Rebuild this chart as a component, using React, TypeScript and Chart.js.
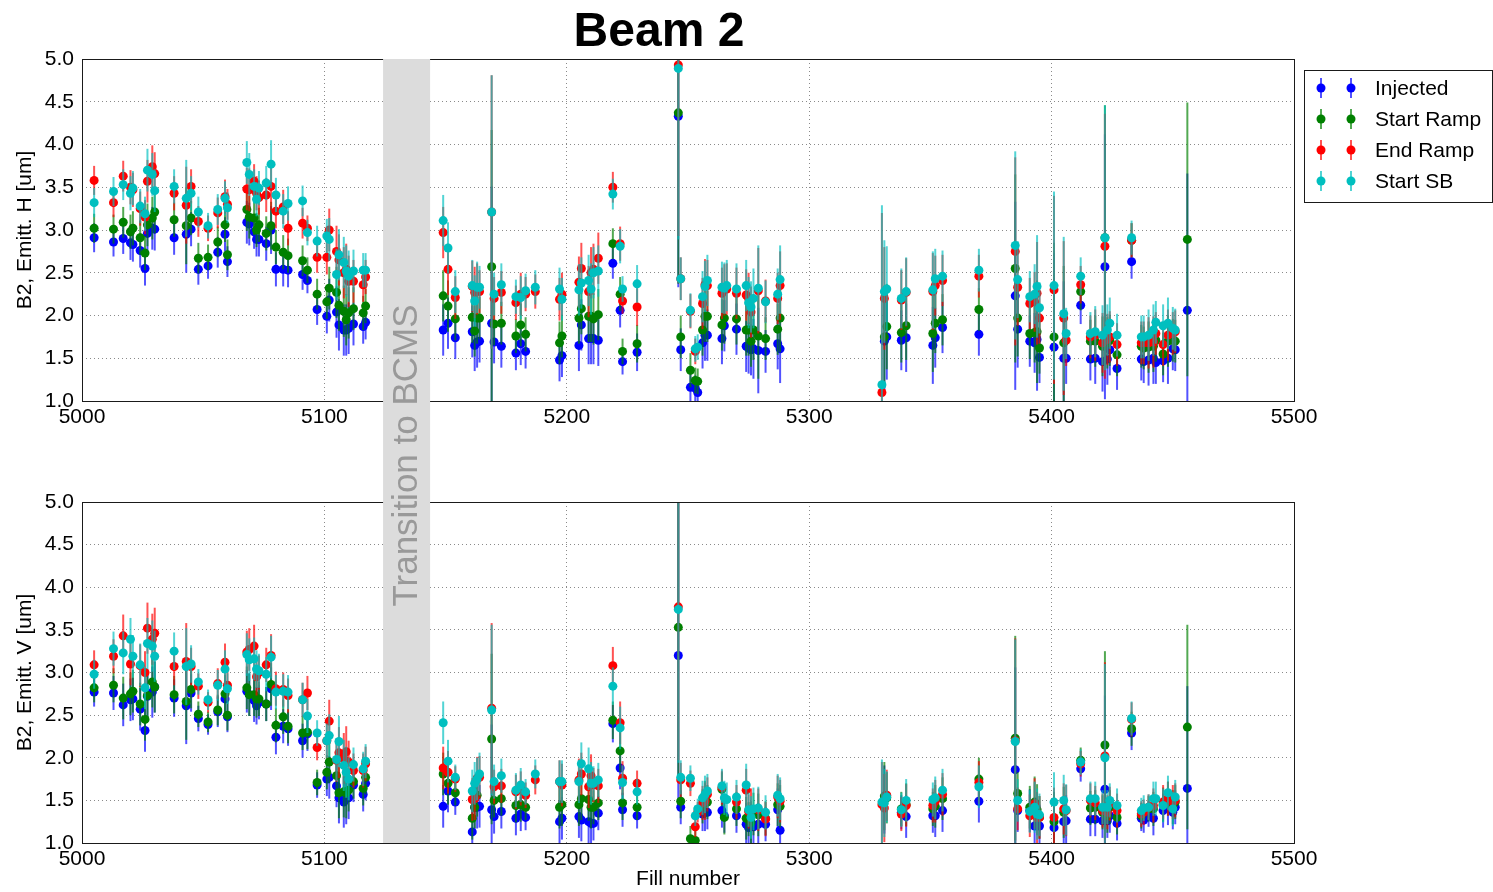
import React, { useEffect, useRef } from 'react';
import { Chart, registerables } from 'chart.js';

Chart.register(...registerables);

const FONT = '"Liberation Sans", Arial, Helvetica, sans-serif';

// ---------------- data ----------------
const FILLS = [
  5005, 5013, 5017, 5020, 5021, 5024, 5026, 5027, 5029, 5030,
  5038, 5043, 5045, 5048, 5052, 5056, 5059, 5060, 5068, 5069,
  5071, 5072, 5073, 5076, 5078, 5080, 5083, 5085, 5091, 5093,
  5097, 5101, 5102, 5105, 5106, 5108, 5109, 5110, 5112, 5116,
  5117,
  5149, 5151, 5154, 5161, 5162, 5163, 5164, 5169, 5170, 5173,
  5179, 5181, 5183, 5187, 5197, 5198, 5205, 5206, 5209, 5210,
  5211, 5213, 5219, 5222, 5223, 5229, 5246, 5247, 5251, 5253,
  5254, 5256, 5257, 5258, 5264, 5265, 5266, 5270, 5274, 5275,
  5276, 5277, 5279, 5282, 5287, 5288,
  5330, 5331, 5332, 5338, 5340, 5351, 5352, 5355, 5370, 5385,
  5386, 5391, 5393, 5394, 5395, 5401, 5405, 5406, 5412, 5416,
  5418, 5421, 5422, 5423, 5424, 5427, 5433, 5437, 5438, 5440,
  5442, 5443, 5446, 5448, 5450, 5451, 5456,
];

// Horizontal emittance [um]
const H_INJ = [
  2.91, 2.86, 2.90, 2.85, 2.83, 2.76, 2.55, 2.96, 3.02, 3.01,
  2.91, 2.95, 3.01, 2.54, 2.58, 2.74, 2.95, 2.63, 3.09, 3.07,
  2.98, 2.89, 2.89, 2.84, 3.00, 2.54, 2.54, 2.53, 2.48, 2.41,
  2.07, 1.99, 2.18, 2.04, 1.89, 1.83, 1.83, 1.85, 1.90, 1.87,
  1.92,
  1.83, 1.91, 1.74, 1.81, 1.65, 1.69, 1.70, 1.91, 1.69, 1.64,
  1.56, 1.67, 1.58, null, 1.48, 1.53, 1.65, 1.89, 1.73, 1.73,
  1.73, 1.71, 2.61, 2.06, 1.46, 1.57, 4.33, 1.60, 1.16, 1.15,
  1.10, 1.68, 1.77, 1.77, 1.73, 1.88, null, 1.84, 1.64, 1.62,
  1.60, 1.61, 1.59, 1.58, 1.67, 1.61,
  null, 1.70, 1.75, 1.71, 1.74, 1.65, 1.74, 1.86, 1.78, 2.23,
  1.84, 1.70, 1.68, 1.72, 1.51, 1.63, 1.50, 1.50, 2.12, 1.49,
  1.50, 1.46, 2.57, 1.49, 1.60, 1.38, 2.63, 1.49, 1.46, 1.48,
  1.50, 1.45, 1.47, 1.50, 1.61, 1.60, 2.06,
];
const H_SR = [
  3.02, 3.01, 3.09, 2.98, 3.02, 2.91, 2.73, 3.06, 3.14, 3.21,
  3.12, 3.05, 3.14, 2.67, 2.68, 2.86, 3.06, 2.71, 3.24, 3.15,
  3.14, 3.00, 3.06, 2.96, 3.05, 2.80, 2.74, 2.70, 2.64, 2.53,
  2.25, 2.16, 2.32, 2.27, 2.12, 2.05, 1.95, 2.03, 2.08, 2.03,
  2.11,
  2.23, 2.11, 1.96, 1.98, 1.82, 1.97, 1.97, 2.57, 1.90, 1.91,
  1.76, 1.89, 1.78, null, 1.68, 1.76, 1.97, 2.08, 1.99, 1.99,
  1.96, 2.01, 2.84, 2.25, 1.58, 1.67, 4.37, 1.75, 1.36, 1.24,
  1.23, 1.83, 1.99, 1.99, 1.89, 1.97, null, 1.96, 1.83, 1.83,
  1.70, 1.83, 1.76, 1.73, 1.84, 1.97,
  null, 1.75, 1.87, 1.80, 1.88, 1.79, 1.91, 1.95, 2.07, 2.55,
  1.97, 1.79, 1.80, 1.81, 1.62, 1.75, 1.68, null, 2.28, 1.70,
  1.70, 1.64, 2.91, 1.68, 1.71, 1.54, 2.88, 1.64, 1.62, 1.63,
  1.64, 1.71, 1.55, 1.70, 1.71, 1.70, 2.89,
];
const H_ER = [
  3.58, 3.32, 3.63, 3.50, 3.47, 3.25, 3.15, 3.57, 3.74, 3.66,
  3.43, 3.29, 3.51, 3.10, 3.02, 3.20, 3.39, 3.30, 3.48, 3.47,
  3.57, 3.43, 3.38, 3.41, 3.51, 3.22, 3.27, 3.02, 3.08, 3.02,
  2.68, 2.68, 3.00, 2.75, 2.65, 2.50, 2.54, 2.40, 2.40, 2.36,
  2.45,
  2.97, 2.54, 2.21, 2.34, 2.27, 2.31, 2.28, 3.21, 2.20, 2.27,
  2.15, 2.25, 2.25, 2.28, 2.19, 2.25, 2.39, 2.55, 2.28, 2.50,
  2.54, 2.67, 3.50, 2.84, 2.17, 2.10, 4.93, 2.43, 2.05, 1.58,
  null, 2.14, 2.36, 2.35, 2.26, 2.30, 2.31, 2.26, 2.24, 2.20,
  2.04, null, 2.29, 2.17, 2.20, 2.35,
  1.10, 2.20, null, 2.18, 2.27, 2.28, 2.35, 2.41, 2.46, 2.75,
  2.33, 2.14, 2.16, 2.26, 1.97, 2.30, 1.97, 1.71, 2.36, 1.75,
  1.77, 1.68, 2.81, 1.72, 1.75, 1.66, 2.88, 1.68, 1.68, 1.68,
  1.69, 1.79, 1.66, 1.77, 1.79, 1.81, null,
];
const H_SB = [
  3.32, 3.45, 3.53, 3.43, 3.49, 3.28, 3.19, 3.70, 3.65, 3.46,
  3.51, 3.37, 3.43, 3.21, 3.05, 3.24, 3.37, 3.26, 3.79, 3.65,
  3.51, 3.36, 3.49, 3.55, 3.77, 3.41, 3.22, 3.31, 3.34, 2.97,
  2.87, 2.93, 2.89, 2.48, 2.71, 2.62, 2.52, 2.46, 2.52, 2.53,
  2.53,
  3.11, 2.79, 2.28, 2.35, 2.17, 2.33, 2.33, 3.21, 2.25, 2.36,
  2.22, 2.21, 2.29, 2.33, 2.31, 2.19, 2.30, 2.38, 2.41, 2.31,
  2.50, 2.52, 3.42, 2.81, 2.31, 2.37, 4.89, 2.43, 2.06, 1.61,
  1.63, 2.22, 2.34, 2.41, 2.33, 2.32, 2.35, 2.31, 2.35, 2.15,
  2.10, 2.20, 2.32, 2.16, 2.25, 2.42,
  1.19, 2.28, 2.31, 2.20, 2.28, 2.30, 2.43, 2.46, 2.53, 2.82,
  2.42, 2.22, 2.25, 2.34, 2.09, 2.35, 2.02, 1.79, 2.46, 1.79,
  1.81, 1.77, 2.91, 1.83, 1.91, 1.77, 2.91, 1.75, 1.75, 1.77,
  1.83, 1.92, 1.88, 1.91, 1.85, 1.83, null,
];
const H_ERR = [
  0.17, 0.17, 0.18, 0.20, 0.20, 0.20, 0.20, 0.25, 0.25, 0.25,
  0.20, 0.45, 0.20, 0.18, 0.15, 0.18, 0.20, 0.18, 0.25, 0.25,
  0.20, 0.20, 0.20, 0.20, 0.28, 0.20, 0.20, 0.20, 0.18, 0.15,
  0.18, 0.20, 0.25, 0.30, 0.30, 0.30, 0.30, 0.30, 0.25, 0.20,
  0.20,
  0.30, 0.30, 0.25, 0.30, 0.30, 0.30, 0.25, 1.60, 0.25, 0.25,
  0.20, 0.25, 0.20, 0.20, 0.25, 0.25, 0.30, 0.30, 0.30, 0.30,
  0.30, 0.30, 0.18, 0.20, 0.15, 0.22, 2.00, 0.25, 0.20, 0.15,
  0.15, 0.30, 0.30, 0.30, 0.30, 0.30, 0.30, 0.30, 0.30, 0.30,
  0.30, 0.35, 0.50, 0.25, 0.30, 0.40,
  2.10, 0.60, 0.50, 0.35, 0.40, 0.45, 0.35, 0.30, 0.25, 1.10,
  0.45, 0.30, 0.35, 0.60, 0.30, 1.10, 0.90, 0.30, 0.22, 0.25,
  0.30, 0.35, 1.55, 0.30, 0.30, 0.25, 0.20, 0.25, 0.25, 0.30,
  0.30, 0.25, 0.25, 0.30, 0.25, 0.25, 1.60,
];

// Vertical emittance [um]
const V_INJ = [
  2.77, 2.76, 2.62, 2.68, 2.69, 2.57, 2.32, 2.72, 2.77, 2.83,
  2.70, 2.61, 2.76, 2.46, 2.39, 2.54, 2.69, 2.48, 2.78, 2.74,
  2.67, 2.61, 2.65, 2.63, 2.81, 2.24, 2.37, 2.34, 2.20, 2.28,
  1.68, 1.75, 1.77, 1.67, 1.53, 1.48, 1.52, 1.53, 1.68, 1.57,
  1.70,
  1.43, 1.61, 1.48, 1.13, 1.42, 1.42, 1.43, 1.39, 1.31, 1.37,
  1.29, 1.34, 1.30, null, 1.25, 1.29, 1.31, 1.27, 1.25, 1.23,
  1.23, 1.35, 2.40, 1.88, 1.39, 1.32, 3.20, 1.42, null, null,
  null, 1.34, 1.36, 1.36, 1.38, 1.32, null, 1.32, 1.22, 1.18,
  1.20, 1.19, 1.22, 1.22, 1.39, 1.15,
  null, 1.51, null, 1.36, 1.31, 1.32, 1.32, 1.38, 1.49, 1.86,
  1.38, 1.38, 1.20, null, 1.20, 1.18, 1.25, 1.26, 1.87, 1.28,
  1.28, 1.26, 1.63, 1.26, 1.32, 1.23, 2.29, 1.29, 1.27, 1.34,
  1.29, null, 1.38, 1.41, 1.36, 1.42, 1.64,
];
const V_SR = [
  2.82, 2.85, 2.70, 2.75, 2.78, 2.63, 2.45, 2.73, 2.89, 2.83,
  2.74, 2.66, 2.80, 2.51, 2.42, 2.56, 2.75, 2.50, 2.82, 2.74,
  2.74, 2.69, 2.69, 2.63, 2.86, 2.38, 2.48, 2.37, 2.29, 2.30,
  1.71, 1.83, 1.95, 1.79, 1.59, 1.60, 1.59, 1.62, 1.72, 1.64,
  1.77,
  1.81, 1.70, 1.59, 1.29, 1.42, 1.56, null, 2.22, 1.50, 1.52,
  1.44, 1.45, 1.42, null, 1.42, 1.45, 1.45, 1.52, 1.51, 1.42,
  1.42, 1.47, 2.44, 2.08, 1.47, 1.42, 3.53, 1.49, 1.05, 1.03,
  null, 1.43, 1.51, 1.48, 1.63, 1.30, null, 1.40, 1.29, 1.28,
  1.24, 1.34, 1.33, 1.29, 1.45, 1.43,
  null, 1.55, 1.53, 1.40, 1.45, 1.40, 1.43, 1.52, 1.75, 2.23,
  1.58, 1.42, 1.48, 1.39, 1.30, 1.25, 1.36, null, 1.97, 1.41,
  1.42, 1.36, 2.15, 1.32, 1.42, 1.30, 2.34, 1.32, null, 1.40,
  1.40, null, 1.45, 1.52, 1.42, 1.48, 2.36,
];
const V_ER = [
  3.09, 3.19, 3.43, 3.10, null, 3.08, 3.00, 3.52, 3.39, 3.46,
  3.07, 3.13, 3.07, 2.84, 2.65, 2.87, 3.12, 2.85, 3.24, 3.27,
  3.31, 2.95, 3.00, 3.09, 3.20, 2.81, 2.80, 2.73, 2.68, 2.76,
  2.12, 2.20, 2.43, 1.97, 2.06, 1.99, 2.07, 1.95, 1.85, 1.85,
  1.93,
  1.88, 1.83, 1.75, 1.51, 1.52, 1.76, 1.77, 2.58, 1.66, 1.67,
  1.60, 1.64, 1.56, 1.74, 1.72, 1.68, 1.74, 1.81, 1.66, 1.79,
  1.68, 1.67, 3.08, 2.41, 1.76, 1.70, 3.77, 1.74, 1.70, 1.19,
  1.36, 1.47, 1.49, 1.57, 1.65, null, null, 1.48, 1.62, 1.37,
  1.39, null, 1.39, 1.28, 1.54, 1.49,
  1.45, 1.41, 1.56, 1.34, 1.44, 1.44, 1.49, 1.57, 1.71, 2.20,
  1.40, 1.32, 1.46, 1.30, 1.30, 1.30, 1.40, 1.38, 1.93, 1.50,
  1.47, 1.38, 2.02, 1.36, 1.46, 1.38, 2.45, 1.34, 1.36, 1.42,
  1.44, null, 1.48, 1.52, 1.48, 1.50, null,
];
const V_SB = [
  2.98, 3.28, 3.23, 3.39, 3.19, 3.09, 2.82, 3.34, 3.31, 3.19,
  3.25, 3.07, 3.10, 2.89, 2.68, 2.85, 3.04, 2.81, 3.21, 3.15,
  3.16, 3.04, 3.02, 2.98, 3.18, 2.77, 2.78, 2.77, 2.68, 2.49,
  2.29, 2.20, 2.26, 1.98, 2.19, 1.91, 1.83, 1.75, 1.92, 1.87,
  1.96,
  2.41, 1.96, 1.77, 1.61, 1.70, 1.75, 1.81, 2.56, 1.72, 1.79,
  1.62, 1.68, 1.60, 1.81, 1.72, 1.72, 1.72, 1.93, 1.87, 1.70,
  1.70, 1.74, 2.84, 2.35, 1.71, 1.60, 3.74, 1.77, 1.76, 1.32,
  1.40, 1.53, 1.57, 1.61, 1.67, 1.53, 1.51, 1.54, 1.68, 1.39,
  1.30, 1.40, 1.41, 1.36, 1.56, 1.52,
  1.48, 1.47, 1.54, 1.39, 1.50, 1.51, 1.53, 1.62, 1.66, 2.19,
  1.50, 1.37, 1.42, 1.34, 1.33, 1.48, 1.50, 1.39, 1.95, 1.52,
  1.52, 1.42, 2.00, 1.42, 1.50, 1.44, 2.46, 1.38, 1.41, 1.42,
  1.52, 1.52, 1.44, 1.59, 1.40, 1.54, null,
];
const V_ERR = [
  0.17, 0.20, 0.25, 0.25, 0.25, 0.25, 0.25, 0.30, 0.30, 0.30,
  0.22, 0.45, 0.22, 0.15, 0.12, 0.18, 0.22, 0.18, 0.25, 0.25,
  0.25, 0.22, 0.20, 0.20, 0.25, 0.20, 0.20, 0.20, 0.20, 0.20,
  0.15, 0.20, 0.25, 0.25, 0.30, 0.30, 0.30, 0.25, 0.20, 0.20,
  0.20,
  0.25, 0.25, 0.15, 0.25, 0.25, 0.25, 0.25, 1.00, 0.20, 0.20,
  0.20, 0.20, 0.15, 0.17, 0.25, 0.25, 0.25, 0.25, 0.25, 0.25,
  0.20, 0.20, 0.22, 0.25, 0.20, 0.15, 1.80, 0.20, 0.15, 0.12,
  0.12, 0.20, 0.22, 0.20, 0.20, 0.20, 0.20, 0.20, 0.25, 0.20,
  0.25, 0.25, 0.25, 0.20, 0.25, 0.25,
  0.50, 0.40, 0.30, 0.20, 0.25, 0.20, 0.25, 0.25, 0.25, 1.20,
  0.25, 0.25, 0.30, 0.30, 0.25, 0.35, 0.30, 0.30, 0.15, 0.20,
  0.20, 0.20, 1.10, 0.20, 0.20, 0.20, 0.20, 0.15, 0.15, 0.15,
  0.20, 0.20, 0.20, 0.20, 0.20, 0.20, 1.20,
];

const LABELS = ['Injected', 'Start Ramp', 'End Ramp', 'Start SB'];
const X_TICKS = [5000, 5100, 5200, 5300, 5400, 5500];
const Y_TICKS = [1.0, 1.5, 2.0, 2.5, 3.0, 3.5, 4.0, 4.5, 5.0];
const BAND = [5124.2, 5143.6];

// ---------------- styles ----------------
const COLORS = ['#0000ff', '#008000', '#ff0000', '#00bfbf'];
const ERR_COLORS = ['rgba(0,0,255,0.68)', 'rgba(0,128,0,0.68)', 'rgba(255,0,0,0.68)', 'rgba(0,191,191,0.68)'];

const W = 1493;
const H = 892;
const TOP_H = 440;
const BOT_TOP = 440;
const BOT_H = H - BOT_TOP;

const errorBarPlugin = {
  id: 'errorBars',
  beforeDatasetDraw(chart: any, args: any) {
    const ds = chart.data.datasets[args.index];
    const err = ds.errors;
    if (!err) return;
    const { ctx, chartArea } = chart;
    const ys = chart.scales.y;
    ctx.save();
    ctx.beginPath();
    ctx.rect(chartArea.left, chartArea.top, chartArea.right - chartArea.left, chartArea.bottom - chartArea.top);
    ctx.clip();
    ctx.strokeStyle = ds.errorColor;
    ctx.lineWidth = 2;
    args.meta.data.forEach((pt: any, i: number) => {
      const v = ds.data[i].y;
      if (v === null || v === undefined) return;
      const e = err[i];
      ctx.beginPath();
      ctx.moveTo(pt.x, ys.getPixelForValue(v - e));
      ctx.lineTo(pt.x, ys.getPixelForValue(v + e));
      ctx.stroke();
    });
    ctx.restore();
  },
};

const framePlugin = {
  id: 'frame',
  afterDraw(chart: any) {
    const { ctx, chartArea } = chart;
    ctx.save();
    ctx.strokeStyle = '#1a1a1a';
    ctx.lineWidth = 1;
    ctx.strokeRect(chartArea.left + 0.5, chartArea.top + 0.5, chartArea.right - chartArea.left, chartArea.bottom - chartArea.top);
    ctx.restore();
  },
};

const titleLegendPlugin = {
  id: 'titleLegend',
  afterDraw(chart: any) {
    const { ctx, chartArea } = chart;
    ctx.save();
    // title
    ctx.font = `bold 48px ${FONT}`;
    ctx.fillStyle = '#000';
    ctx.textAlign = 'center';
    ctx.textBaseline = 'alphabetic';
    ctx.fillText('Beam 2', 659, 46);
    // legend
    const bx = chartArea.right + 10;
    const by = chartArea.top + 11;
    const bw = 188;
    const bh = 132;
    ctx.fillStyle = '#fff';
    ctx.fillRect(bx, by, bw, bh);
    ctx.strokeStyle = '#1a1a1a';
    ctx.lineWidth = 1;
    ctx.strokeRect(bx + 0.5, by + 0.5, bw, bh);
    ctx.font = `21px ${FONT}`;
    ctx.textAlign = 'left';
    ctx.textBaseline = 'middle';
    chart.data.datasets.forEach((ds: any, i: number) => {
      const cy = by + 18 + i * 31;
      [bx + 17, bx + 47].forEach((mx) => {
        ctx.strokeStyle = ds.errorColor;
        ctx.lineWidth = 2;
        ctx.beginPath();
        ctx.moveTo(mx, cy - 10);
        ctx.lineTo(mx, cy + 10);
        ctx.stroke();
        ctx.fillStyle = ds.backgroundColor;
        ctx.beginPath();
        ctx.arc(mx, cy, 4.5, 0, Math.PI * 2);
        ctx.fill();
      });
      ctx.fillStyle = '#000';
      ctx.fillText(ds.label, bx + 71, cy + 1);
    });
    ctx.restore();
  },
};

function makeDatasets(series: (number | null)[][], err: number[]) {
  return LABELS.map((label, k) => ({
    label,
    data: FILLS.map((f, i) => ({ x: f, y: series[k][i] })),
    errors: err,
    errorColor: ERR_COLORS[k],
    backgroundColor: COLORS[k],
    borderColor: COLORS[k],
    borderWidth: 0,
    pointRadius: 4.5,
    pointHoverRadius: 4.5,
    showLine: false,
    order: LABELS.length - k,
  }));
}

function makeOptions(yTitle: string, xTitle: string | null, padTop: number, xAxisHeight: number): any {
  const tickFont = { size: 21, family: FONT };
  return {
    responsive: false,
    maintainAspectRatio: false,
    animation: false,
    devicePixelRatio: 1,
    events: [],
    layout: { padding: { top: padTop, right: 199, left: 0, bottom: 0 } },
    plugins: { legend: { display: false }, tooltip: { enabled: false }, title: { display: false } },
    scales: {
      x: {
        type: 'linear',
        position: 'bottom',
        min: X_TICKS[0],
        max: X_TICKS[X_TICKS.length - 1],
        afterBuildTicks: (s: any) => { s.ticks = X_TICKS.map((v) => ({ value: v })); },
        ticks: { callback: (v: any) => String(v), font: tickFont, color: '#000', padding: 4, maxRotation: 0, autoSkip: false },
        grid: { color: '#8a8a8a', lineWidth: 1, drawTicks: false },
        border: { display: false, dash: [1, 3] },
        title: xTitle
          ? { display: true, text: xTitle, font: tickFont, color: '#000', padding: { top: 0, bottom: 0 } }
          : { display: false },
        afterFit: (s: any) => { s.height = xAxisHeight; },
      },
      y: {
        type: 'linear',
        min: Y_TICKS[0],
        max: Y_TICKS[Y_TICKS.length - 1],
        afterBuildTicks: (s: any) => { s.ticks = Y_TICKS.map((v) => ({ value: v })); },
        ticks: { callback: (v: any) => Number(v).toFixed(1), font: tickFont, color: '#000', padding: 8, autoSkip: false },
        grid: { color: '#8a8a8a', lineWidth: 1, drawTicks: false },
        border: { display: false, dash: [1, 3] },
        title: { display: true, text: yTitle, font: tickFont, color: '#000', padding: { top: 13, bottom: 0 } },
        afterFit: (s: any) => { s.width = 82; },
      },
    },
  };
}

export default function App() {
  const topRef = useRef<HTMLCanvasElement | null>(null);
  const botRef = useRef<HTMLCanvasElement | null>(null);
  const overRef = useRef<HTMLCanvasElement | null>(null);

  useEffect(() => {
    if (!topRef.current || !botRef.current || !overRef.current) return;
    const top = new Chart(topRef.current, {
      type: 'scatter',
      data: { datasets: makeDatasets([H_INJ, H_SR, H_ER, H_SB], H_ERR) as any },
      options: makeOptions('B2, Emitt. H [um]', null, 59, TOP_H - 401),
      plugins: [errorBarPlugin, framePlugin, titleLegendPlugin],
    });
    const bot = new Chart(botRef.current, {
      type: 'scatter',
      data: { datasets: makeDatasets([V_INJ, V_SR, V_ER, V_SB], V_ERR) as any },
      options: makeOptions('B2, Emitt. V [um]', 'Fill number', 502 - BOT_TOP, BOT_H - (843 - BOT_TOP)),
      plugins: [errorBarPlugin, framePlugin],
    });

    const octx = overRef.current.getContext('2d')!;
    octx.clearRect(0, 0, W, H);
    const xs: any = top.scales.x;
    const x1 = xs.getPixelForValue(BAND[0]);
    const x2 = xs.getPixelForValue(BAND[1]);
    const y1 = top.chartArea.top;
    const y2 = BOT_TOP + bot.chartArea.bottom;
    octx.fillStyle = '#dcdcdc';
    octx.fillRect(x1, y1, x2 - x1, y2 - y1);
    const cy = (top.chartArea.bottom + BOT_TOP + bot.chartArea.top) / 2 + 4;
    octx.save();
    octx.translate((x1 + x2) / 2 + 1, cy);
    octx.rotate(-Math.PI / 2);
    octx.font = `35px ${FONT}`;
    octx.fillStyle = '#999999';
    octx.textAlign = 'center';
    octx.textBaseline = 'middle';
    octx.fillText('Transition to BCMS', 0, 0);
    octx.restore();

    return () => {
      top.destroy();
      bot.destroy();
    };
  }, []);

  return (
    <div style={{ position: 'absolute', left: 0, top: 0, width: W, height: H, background: '#fff', overflow: 'hidden' }}>
      <canvas ref={topRef} width={W} height={TOP_H} style={{ position: 'absolute', left: 0, top: 0, width: W, height: TOP_H }} />
      <canvas ref={botRef} width={W} height={BOT_H} style={{ position: 'absolute', left: 0, top: BOT_TOP, width: W, height: BOT_H }} />
      <canvas ref={overRef} width={W} height={H} style={{ position: 'absolute', left: 0, top: 0, width: W, height: H, pointerEvents: 'none' }} />
    </div>
  );
}
